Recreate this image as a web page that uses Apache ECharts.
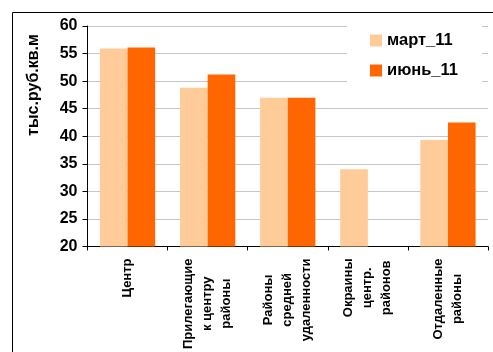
<!DOCTYPE html>
<html>
<head>
<meta charset="utf-8">
<script src="https://cdn.jsdelivr.net/npm/echarts@6/dist/echarts.min.js"></script>
<style>
  html, body { margin: 0; padding: 0; background: #fff; }
  #chart { width: 493px; height: 352px; }
</style>
</head>
<body>
<div id="chart"></div>
<script>
// Price per square metre by district zone, thousand roubles
const categories = [
  'Центр',
  'Прилегающие\nк центру\nрайоны',
  'Районы\nсредней\nудаленности',
  'Окраины\nцентр.\nрайонов',
  'Отдаленные\nрайоны'
];
const seriesNames = ['март_11', 'июнь_11'];
const marchValues = [55.9, 48.8, 47.0, 34.0, 39.3];
const juneValues = [56.1, 51.2, 47.0, null, 42.5];
const yTicks = { min: 20, max: 60, step: 5 };
const yAxisTitle = 'тыс.руб.кв.м';

const FONT = '"Liberation Sans", Arial, sans-serif';

const chart = echarts.init(document.getElementById('chart'), null, { renderer: 'canvas' });

chart.setOption({
  animation: false,
  backgroundColor: '#ffffff',
  textStyle: { fontFamily: FONT },
  grid: { left: 87.5, right: 5, top: 26, bottom: 99, containLabel: false },
  legend: {
    orient: 'vertical',
    left: 347,
    top: 18,
    padding: [14, 24, 14, 23],
    backgroundColor: '#ffffff',
    itemWidth: 12,
    itemHeight: 12,
    itemGap: 13,
    icon: 'rect',
    textStyle: { fontFamily: FONT, fontSize: 16.5, fontWeight: 'bold', color: '#000' },
    data: seriesNames
  },
  xAxis: {
    type: 'category',
    data: categories,
    axisLine: { lineStyle: { color: '#000', width: 1 } },
    axisTick: { show: true, length: 4, lineStyle: { color: '#000' } },
    axisLabel: {
      interval: 0,
      rotate: 90,
      margin: 12,
      formatter: v => '{c|' + v.split('\n').join('}\n{c|') + '}',
      rich: {
        c: {
          align: 'center',
          fontFamily: FONT,
          fontSize: 13,
          fontWeight: 'bold',
          color: '#000',
          lineHeight: 19
        }
      }
    }
  },
  yAxis: {
    type: 'value',
    min: yTicks.min,
    max: yTicks.max,
    interval: yTicks.step,
    axisLine: { show: true, lineStyle: { color: '#000', width: 1 } },
    axisTick: { show: true, length: 5, lineStyle: { color: '#000' } },
    axisLabel: {
      margin: 10,
      fontFamily: FONT,
      fontSize: 16,
      fontWeight: 'bold',
      color: '#000'
    },
    splitLine: { lineStyle: { color: '#c6c6c6', width: 1 } }
  },
  series: [
    {
      name: seriesNames[0],
      type: 'bar',
      data: marchValues,
      barGap: '0%',
      barCategoryGap: '31%',
      itemStyle: { color: '#FFCC99' }
    },
    {
      name: seriesNames[1],
      type: 'bar',
      data: juneValues,
      barGap: '0%',
      barCategoryGap: '31%',
      itemStyle: { color: '#FF6600' }
    }
  ],
  graphic: [
    {
      type: 'rect',
      z: 100,
      shape: { x: 12.5, y: 12.5, width: 600, height: 500 },
      style: { fill: null, stroke: '#000', lineWidth: 1 },
      silent: true
    },
    {
      type: 'text',
      x: 33.5,
      y: 85,
      rotation: Math.PI / 2,
      style: {
        text: yAxisTitle,
        fontFamily: FONT,
        fontSize: 16,
        fontWeight: 'bold',
        fill: '#000',
        align: 'center',
        verticalAlign: 'middle'
      },
      silent: true
    }
  ]
});
</script>
</body>
</html>
